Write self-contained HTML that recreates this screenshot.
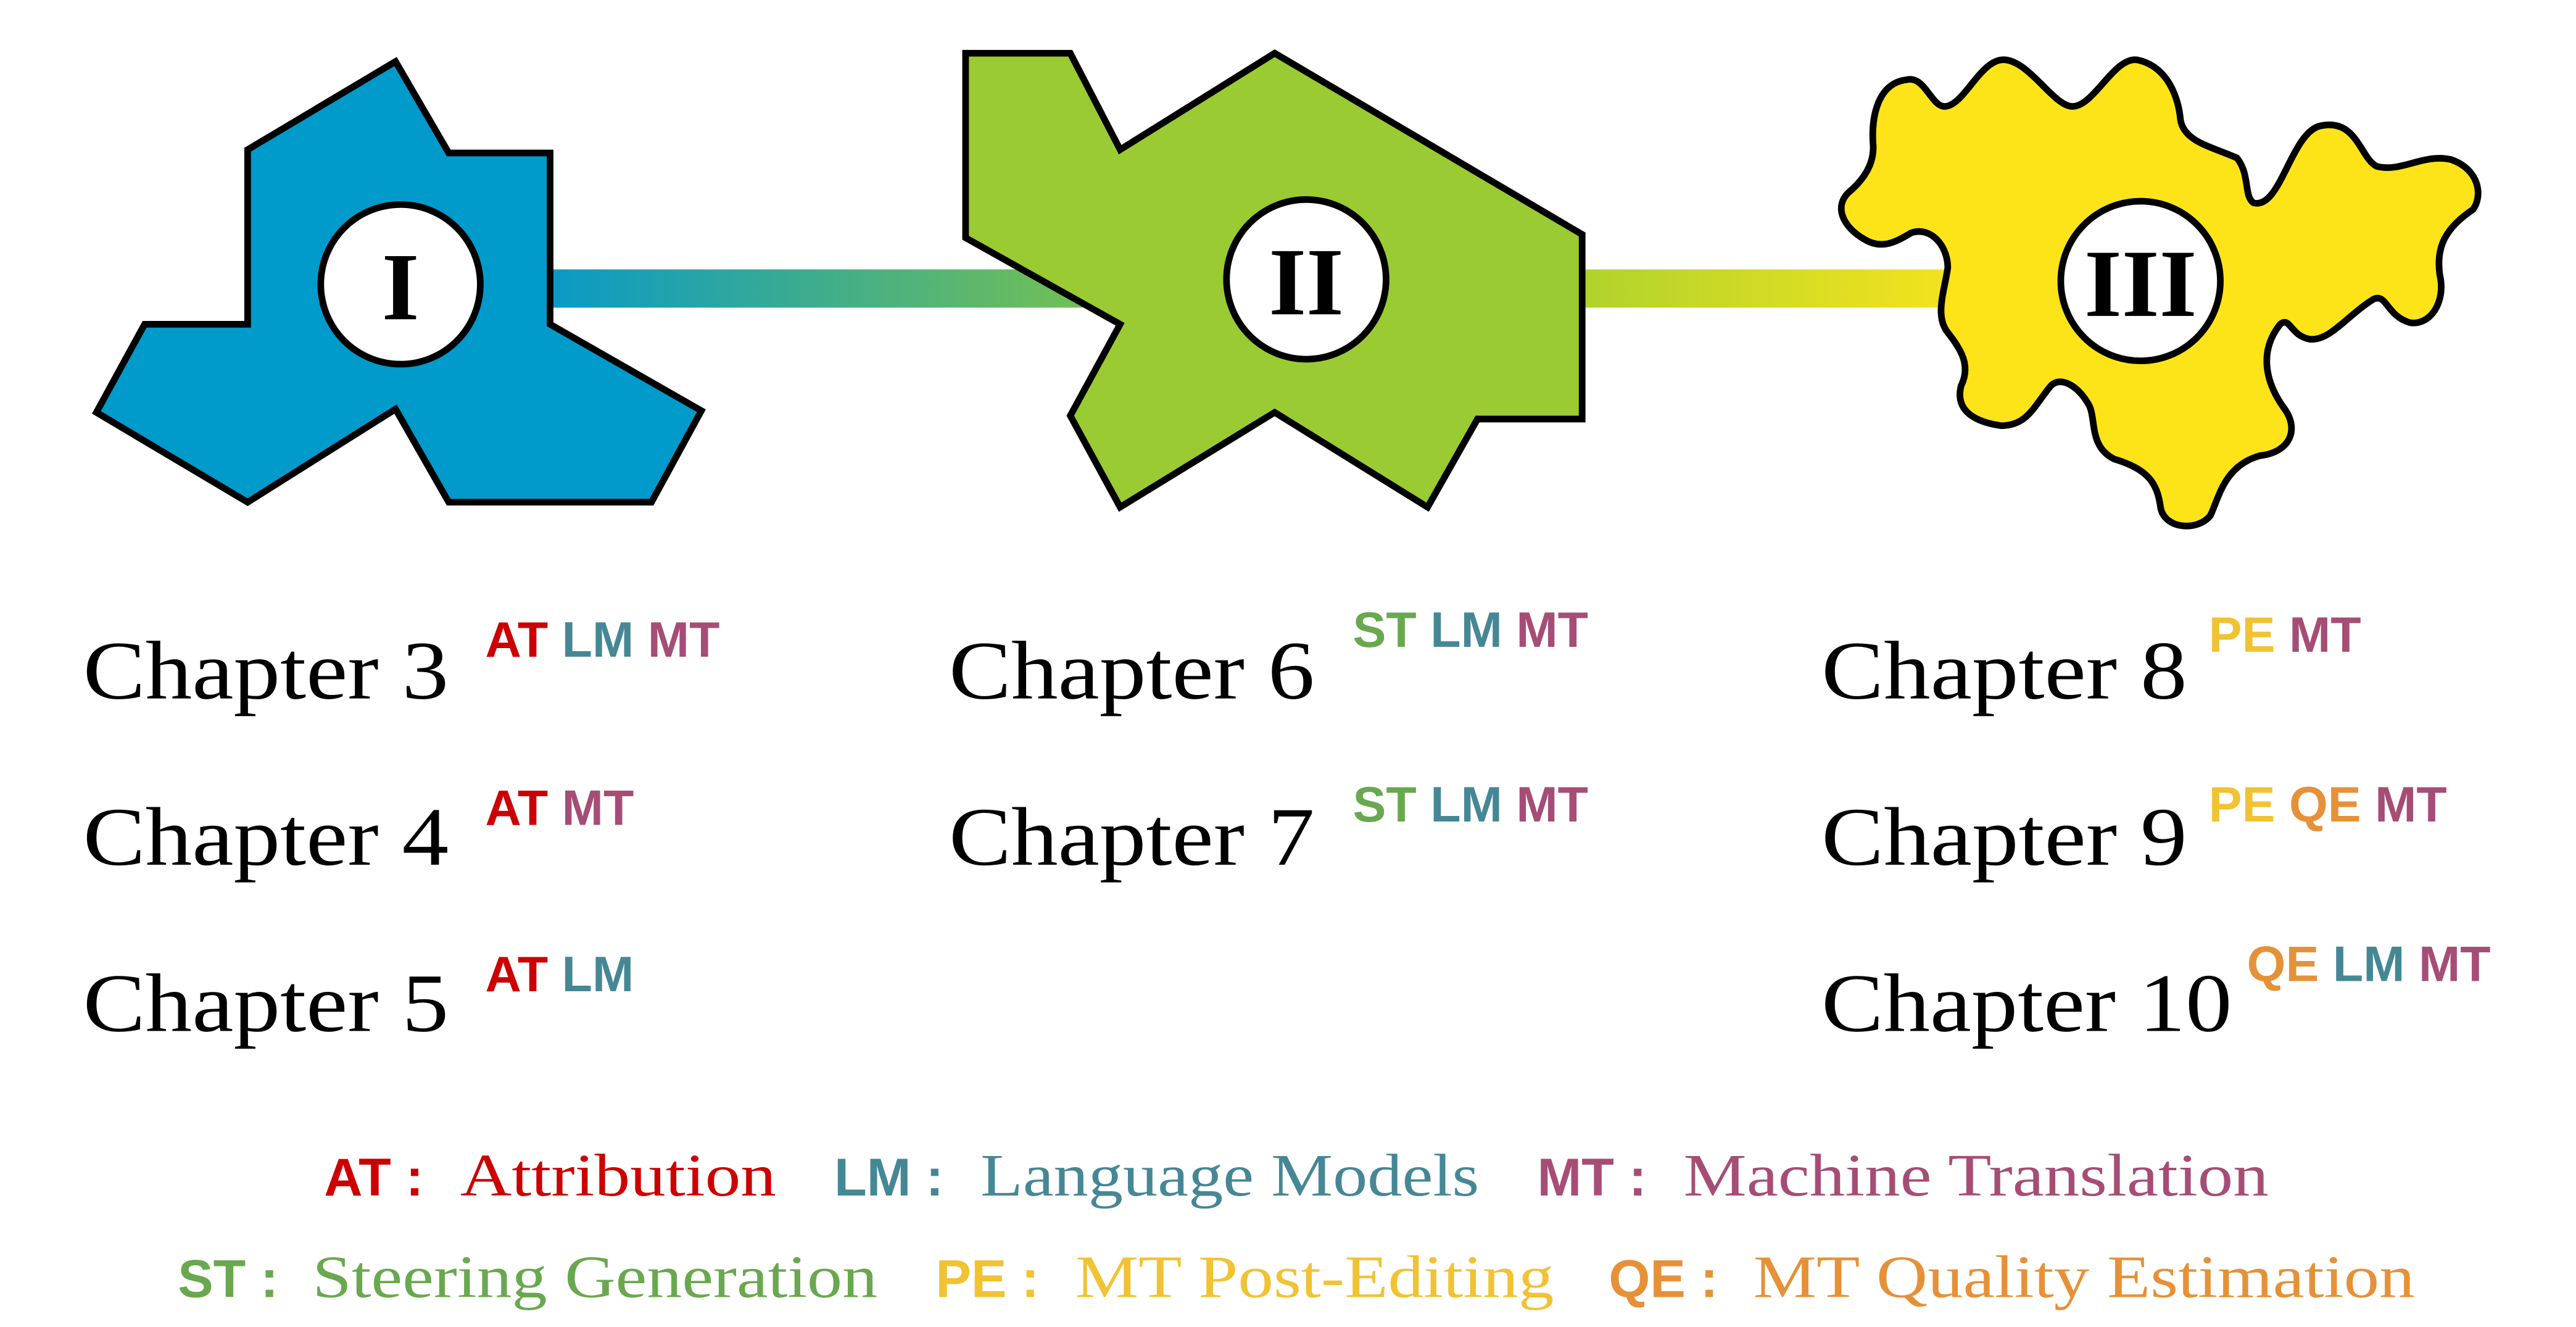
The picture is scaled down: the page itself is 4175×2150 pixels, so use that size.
<!DOCTYPE html>
<html><head><meta charset="utf-8"><style>html,body{margin:0;padding:0;background:#fff}svg{display:block}</style></head>
<body>
<svg width="4175" height="2150" viewBox="0 0 1550 798" preserveAspectRatio="none" xmlns="http://www.w3.org/2000/svg">
<defs>
<linearGradient id="g" x1="333" y1="0" x2="1185" y2="0" gradientUnits="userSpaceOnUse">
<stop offset="0" stop-color="#0a9ac6"/>
<stop offset="0.35" stop-color="#6cbd5c"/>
<stop offset="0.7" stop-color="#a9d12e"/>
<stop offset="1" stop-color="#f7e41c"/>
</linearGradient>
</defs>
<rect x="320" y="162" width="870" height="23" fill="url(#g)"/>
<polygon points="149,90 238,37 270,92 331,92 331,195 422,247 392,302 270,302 238,246 149,302 58,248 87,195 149,195" fill="#009acb" stroke="#000" stroke-width="4" stroke-linejoin="miter"/>
<polygon points="581,32 644,32 674,90 767,32 952,141 952,252 889,252 859,305 767,248 674,305 644,250 674,195 581,143" fill="#9acb33" stroke="#000" stroke-width="4"/>
<path d="M1147,48 C1158,45 1162,64 1170,64 C1182,64 1192,34 1207,36 C1222,38 1236,64 1247,64 C1260,64 1272,34 1286,36 C1305,40 1311,60 1312,72 C1314,85 1330,88 1346,95 C1354,105 1350,118 1356,122 C1372,126 1378,82 1395,76 C1418,70 1420,95 1430,100 C1445,104 1458,92 1475,96 C1492,102 1494,118 1488,126 C1470,138 1466,150 1468,165 C1472,182 1462,196 1450,194 C1436,190 1436,176 1428,180 C1412,190 1402,205 1390,204 C1378,202 1378,190 1372,195 C1360,210 1362,228 1374,245 C1384,258 1378,272 1360,274 C1338,280 1335,300 1330,310 C1322,320 1302,318 1300,305 C1298,290 1292,282 1272,276 C1256,268 1262,250 1256,242 C1250,232 1240,226 1234,232 C1224,244 1220,256 1204,256 C1190,254 1176,248 1180,232 C1186,220 1180,210 1172,200 C1164,190 1170,175 1172,161 C1172,148 1162,136 1150,140 C1140,146 1132,150 1122,144 C1108,136 1104,124 1112,116 C1124,106 1128,96 1127,86 C1126,70 1130,50 1147,48 Z" fill="#fde418" stroke="#000" stroke-width="4"/>
<g stroke="#000" stroke-width="4" fill="#fff">
<circle cx="241" cy="171" r="48"/>
<circle cx="786" cy="168" r="48"/>
<circle cx="1288" cy="169" r="48"/>
</g>
<g font-family="Liberation Serif, serif" font-weight="bold" font-size="58" text-anchor="middle" fill="#000">
<text x="241" y="192">I</text>
<text x="786" y="189">II</text>
<text x="1288" y="190">III</text>
</g>
<g font-family="Liberation Serif, serif" font-size="50" fill="#000">
<text x="50" y="420" textLength="220" lengthAdjust="spacingAndGlyphs">Chapter 3</text>
<text x="50" y="520" textLength="220" lengthAdjust="spacingAndGlyphs">Chapter 4</text>
<text x="50" y="620" textLength="220" lengthAdjust="spacingAndGlyphs">Chapter 5</text>
<text x="571" y="420" textLength="220" lengthAdjust="spacingAndGlyphs">Chapter 6</text>
<text x="571" y="520" textLength="220" lengthAdjust="spacingAndGlyphs">Chapter 7</text>
<text x="1096" y="420" textLength="220" lengthAdjust="spacingAndGlyphs">Chapter 8</text>
<text x="1096" y="520" textLength="220" lengthAdjust="spacingAndGlyphs">Chapter 9</text>
<text x="1096" y="620" textLength="247" lengthAdjust="spacingAndGlyphs">Chapter 10</text>
</g>
<g font-family="Liberation Sans, sans-serif" font-weight="bold" font-size="30">
<text x="292" y="395"><tspan fill="#cc0000">AT</tspan> <tspan fill="#468795">LM</tspan> <tspan fill="#a64d76">MT</tspan></text>
<text x="292" y="496"><tspan fill="#cc0000">AT</tspan> <tspan fill="#a64d76">MT</tspan></text>
<text x="292" y="596"><tspan fill="#cc0000">AT</tspan> <tspan fill="#468795">LM</tspan></text>
<text x="814" y="389"><tspan fill="#6aa84f">ST</tspan> <tspan fill="#468795">LM</tspan> <tspan fill="#a64d76">MT</tspan></text>
<text x="814" y="494"><tspan fill="#6aa84f">ST</tspan> <tspan fill="#468795">LM</tspan> <tspan fill="#a64d76">MT</tspan></text>
<text x="1329" y="392"><tspan fill="#f1c232">PE</tspan> <tspan fill="#a64d76">MT</tspan></text>
<text x="1329" y="494"><tspan fill="#f1c232">PE</tspan> <tspan fill="#e69138">QE</tspan> <tspan fill="#a64d76">MT</tspan></text>
<text x="1352" y="590"><tspan fill="#e69138">QE</tspan> <tspan fill="#468795">LM</tspan> <tspan fill="#a64d76">MT</tspan></text>
</g>
<g font-family="Liberation Sans, sans-serif" font-weight="bold" font-size="32">
<text x="195" y="719" fill="#cc0000">AT :</text>
<text x="502" y="719" fill="#468795">LM :</text>
<text x="925" y="719" fill="#a64d76">MT :</text>
<text x="107" y="780" fill="#6aa84f">ST :</text>
<text x="563" y="780" fill="#f1c232">PE :</text>
<text x="968" y="780" fill="#e69138">QE :</text>
</g>
<g font-family="Liberation Serif, serif" font-size="36">
<text x="277" y="719" fill="#cc0000" textLength="190" lengthAdjust="spacingAndGlyphs">Attribution</text>
<text x="590" y="719" fill="#468795" textLength="300" lengthAdjust="spacingAndGlyphs">Language Models</text>
<text x="1013" y="719" fill="#a64d76" textLength="352" lengthAdjust="spacingAndGlyphs">Machine Translation</text>
<text x="188" y="780" fill="#6aa84f" textLength="340" lengthAdjust="spacingAndGlyphs">Steering Generation</text>
<text x="647" y="780" fill="#f1c232" textLength="288" lengthAdjust="spacingAndGlyphs">MT Post-Editing</text>
<text x="1055" y="780" fill="#e69138" textLength="398" lengthAdjust="spacingAndGlyphs">MT Quality Estimation</text>
</g>
</svg>
</body></html>
